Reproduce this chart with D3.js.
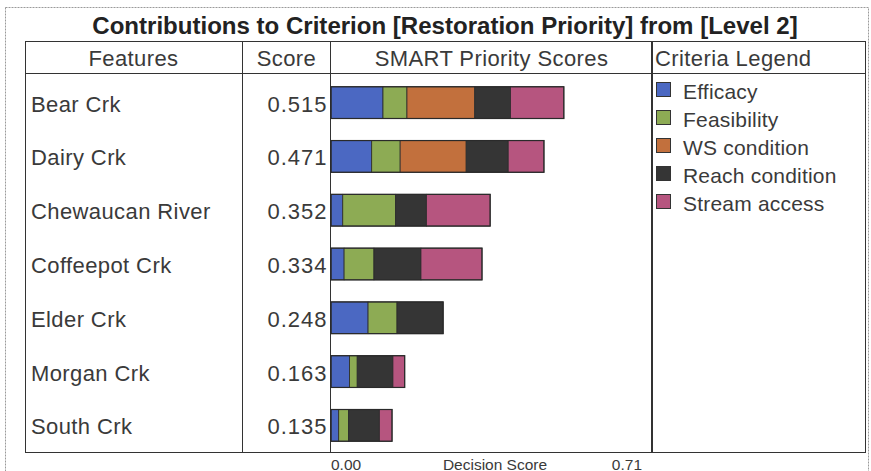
<!DOCTYPE html>
<html>
<head>
<meta charset="utf-8">
<script src="https://cdn.jsdelivr.net/npm/d3@7/dist/d3.min.js"></script>
<style>
  html, body { margin: 0; padding: 0; background: #fff; }
  svg { display: block; }
  text { font-family: "Liberation Sans", Arial, sans-serif; fill: #3a3a3a; }
</style>
</head>
<body>
<svg id="chart" width="871" height="471"></svg>
<script>
const titleText = "Contributions to Criterion [Restoration Priority] from [Level 2]";
const headers = ["Features", "Score", "SMART Priority Scores", "Criteria Legend"];
const features = ["Bear Crk", "Dairy Crk", "Chewaucan River", "Coffeepot Crk", "Elder Crk", "Morgan Crk", "South Crk"];
const scores = [0.515, 0.471, 0.352, 0.334, 0.248, 0.163, 0.135];
const criteria = ["Efficacy", "Feasibility", "WS condition", "Reach condition", "Stream access"];
const efficacy       = [0.115, 0.090, 0.026, 0.029, 0.082, 0.041, 0.017];
const feasibility    = [0.053, 0.063, 0.117, 0.066, 0.064, 0.017, 0.022];
const wsCondition    = [0.150, 0.146, 0.000, 0.000, 0.000, 0.000, 0.000];
const reachCondition = [0.079, 0.093, 0.068, 0.104, 0.102, 0.079, 0.068];
const streamAccess   = [0.118, 0.079, 0.141, 0.135, 0.000, 0.026, 0.028];
const axisDomain = [0, 0.71];
const axisTickLabels = ["0.00", "0.71"];
const axisTitle = "Decision Score";
const colors = ["#4b68c2", "#8dab54", "#c2703d", "#353535", "#b6557f"];

const series = [efficacy, feasibility, wsCondition, reachCondition, streamAccess];
const rows = features.map((f, i) => {
  const r = { feature: f, score: scores[i] };
  criteria.forEach((c, j) => r[c] = series[j][i]);
  return r;
});

const svg = d3.select("#chart");
const L = { left: 25, right: 865, top: 41, head: 73, bottom: 452, c1: 242, c2: 331, c3: 652 };
const FS = 22, LS = 0.4;

// outer dashed frame
svg.append("rect").attr("x", 5.5).attr("y", 7.5).attr("width", 863).attr("height", 470)
  .attr("fill", "none").attr("stroke", "#9a9a9a").attr("stroke-dasharray", "2,1");

// title
const title = svg.append("text").attr("x", (L.left + L.right) / 2).attr("y", 25)
  .attr("text-anchor", "middle").attr("dominant-baseline", "central")
  .attr("font-weight", "bold").attr("font-size", 20).style("fill", "#222").text(titleText);
const tw = title.node().getComputedTextLength();
title.attr("font-size", 20 * 706 / tw);

// scales
const x = d3.scaleLinear().domain(axisDomain).range([L.c2, L.c3]);
const y = d3.scaleBand().domain(features).range([76, L.bottom]).paddingInner(0.41).paddingOuter(0.2);

// table lines
const g = svg.append("g").attr("stroke", "#333").attr("fill", "none");
g.append("rect").attr("x", L.left + 0.5).attr("y", L.top + 0.5)
  .attr("width", L.right - L.left).attr("height", L.bottom - L.top);
g.append("line").attr("x1", L.left).attr("x2", L.right).attr("y1", L.head + 0.5).attr("y2", L.head + 0.5);
g.append("line").attr("x1", L.c1 + 0.5).attr("x2", L.c1 + 0.5).attr("y1", L.top).attr("y2", L.bottom);
g.append("line").attr("x1", L.c2 - 0.5).attr("x2", L.c2 - 0.5).attr("y1", L.top).attr("y2", L.bottom);
g.append("line").attr("x1", L.c3).attr("x2", L.c3).attr("y1", L.top).attr("y2", L.bottom).attr("stroke-width", 2);

// headers
const hx = [(L.left + L.c1) / 2, (L.c1 + L.c2) / 2, (L.c2 + L.c3) / 2, L.c3 + 3];
const ha = ["middle", "middle", "middle", "start"];
headers.forEach((h, i) => {
  svg.append("text").attr("x", hx[i]).attr("y", 58).attr("text-anchor", ha[i])
    .attr("dominant-baseline", "central").attr("font-size", FS)
    .attr("letter-spacing", LS).text(h);
});

// row labels and scores
const cy = d => y(d.feature) + y.bandwidth() / 2 + 1.5;
svg.append("g").selectAll("text").data(rows).join("text")
  .attr("x", 31).attr("y", cy)
  .attr("dominant-baseline", "central").attr("font-size", FS).attr("letter-spacing", LS)
  .text(d => d.feature);
svg.append("g").selectAll("text").data(rows).join("text")
  .attr("x", 327.5).attr("y", cy)
  .attr("text-anchor", "end").attr("dominant-baseline", "central").attr("font-size", FS)
  .attr("letter-spacing", LS + 0.6)
  .text(d => d3.format(".3f")(d.score));

// stacked bars
const stack = d3.stack().keys(criteria)(rows);
svg.append("g").selectAll("g").data(stack).join("g")
  .attr("fill", (d, i) => colors[i])
  .selectAll("rect").data(d => d.filter(p => p[1] - p[0] > 0)).join("rect")
  .attr("x", d => x(d[0])).attr("width", d => x(d[1]) - x(d[0]))
  .attr("y", d => y(d.data.feature)).attr("height", y.bandwidth())
  .attr("stroke", "#2a2a2a").attr("stroke-width", 0.8);
// bar outlines
svg.append("g").selectAll("rect").data(rows).join("rect")
  .attr("x", x(0)).attr("width", d => x(d.score) - x(0))
  .attr("y", d => y(d.feature)).attr("height", y.bandwidth())
  .attr("fill", "none").attr("stroke", "#2a2a2a").attr("stroke-width", 1.2);

// axis labels
const AF = 15.5;
svg.append("text").attr("x", x(axisDomain[0])).attr("y", 464).attr("dominant-baseline", "central")
  .attr("font-size", AF).text(axisTickLabels[0]);
svg.append("text").attr("x", x(axisDomain[1]) - 10).attr("y", 464).attr("text-anchor", "end")
  .attr("dominant-baseline", "central").attr("font-size", AF).text(axisTickLabels[1]);
svg.append("text").attr("x", 495).attr("y", 464).attr("text-anchor", "middle")
  .attr("dominant-baseline", "central").attr("font-size", AF).text(axisTitle);

// legend
const lg = svg.append("g").selectAll("g").data(criteria).join("g")
  .attr("transform", (d, i) => `translate(656, ${90 + i * 28})`);
lg.append("rect").attr("x", 0.5).attr("y", -7.5).attr("width", 14).attr("height", 14)
  .attr("fill", (d, i) => colors[i]).attr("stroke", "#333");
lg.append("text").attr("x", 27).attr("y", 1).attr("dominant-baseline", "central")
  .attr("font-size", 21).attr("letter-spacing", 0.2).text(d => d);
</script>
</body>
</html>
